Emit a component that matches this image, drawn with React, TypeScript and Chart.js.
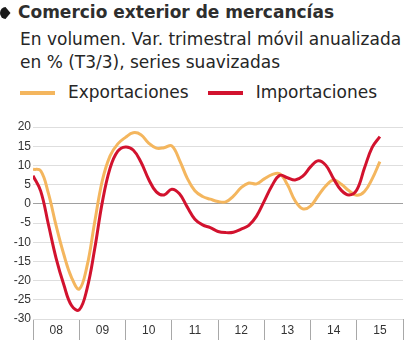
import React, { useEffect, useRef } from 'react';
import { Chart, registerables } from 'chart.js';

Chart.register(...registerables);

// Bi-monthly periods (YYYY-MM)
const periods: string[] = [
  '2008-01', '2008-03', '2008-05', '2008-07', '2008-09', '2008-11',
  '2009-01', '2009-03', '2009-05', '2009-07', '2009-09', '2009-11',
  '2010-01', '2010-03', '2010-05', '2010-07', '2010-09', '2010-11',
  '2011-01', '2011-03', '2011-05', '2011-07', '2011-09', '2011-11',
  '2012-01', '2012-03', '2012-05', '2012-07', '2012-09', '2012-11',
  '2013-01', '2013-03', '2013-05', '2013-07', '2013-09', '2013-11',
  '2014-01', '2014-03', '2014-05', '2014-07', '2014-09', '2014-11',
  '2015-01', '2015-03', '2015-05', '2015-07',
];

const exportaciones: number[] = [
  9.0, 8.6, 2.7, -5.7, -13.2, -19.2,
  -22.2, -16.3, -4.8, 6.1, 12.5, 15.6,
  17.3, 18.5, 18.0, 15.8, 14.5, 14.6,
  15.1, 11.4, 6.7, 3.4, 1.9, 1.2,
  0.6, 0.5, 2.0, 4.2, 5.4, 5.2,
  6.5, 7.6, 7.8, 5.0, 0.8, -1.3,
  -0.6, 2.1, 4.7, 6.2, 5.1, 3.4,
  2.2, 3.2, 6.5, 11.0,
];

const importaciones: number[] = [
  7.3, 3.3, -5.4, -14.2, -21.1, -26.5,
  -27.6, -22.2, -11.8, 0.5, 9.3, 13.7,
  14.8, 14.0, 10.9, 6.4, 3.1, 2.3,
  3.8, 2.6, -0.8, -4.0, -5.5, -6.2,
  -7.2, -7.5, -7.4, -6.6, -5.6, -3.2,
  0.7, 4.7, 7.4, 6.8, 6.2, 7.2,
  9.6, 11.2, 10.0, 6.5, 3.5, 2.3,
  3.6, 9.3, 14.7, 17.5,
];

const yearLabels: string[] = ['08', '09', '10', '11', '12', '13', '14', '15'];
const firstYear = 2008;

const seriesNames: string[] = ['Exportaciones', 'Importaciones'];
const seriesColors: string[] = ['#F4B65E', '#D2122E'];

const titleText = 'Comercio exterior de mercancías';
const subtitleLines: string[] = [
  'En volumen. Var. trimestral móvil anualizada',
  'en % (T3/3), series suavizadas',
];

const yMin = -30;
const yMax = 20;
const yStep = 5;

function toYear(p: string): number {
  const [y, m] = p.split('-').map(Number);
  return y + (m - 1) / 12;
}

const headerFont = "'DejaVu Sans', sans-serif";
const tickFont = "'Liberation Sans', Arial, sans-serif";

export default function App() {
  const canvasRef = useRef<HTMLCanvasElement | null>(null);

  useEffect(() => {
    const canvas = canvasRef.current;
    if (!canvas) return;
    const seriesData = [exportaciones, importaciones];
    const chart = new Chart(canvas, {
      type: 'line',
      data: {
        datasets: seriesNames.map((name, i) => ({
          label: name,
          data: periods.map((p, j) => ({ x: toYear(p), y: seriesData[i][j] })),
          borderColor: seriesColors[i],
          backgroundColor: seriesColors[i],
          borderWidth: 3,
          pointRadius: 0,
          tension: 0.4,
          fill: false,
          order: i === 0 ? 1 : 0,
        })),
      },
      options: {
        animation: false,
        responsive: false,
        maintainAspectRatio: false,
        layout: { padding: { top: 22, right: 11, left: 0, bottom: 0 } },
        plugins: {
          legend: { display: false },
          tooltip: { enabled: false },
        },
        scales: {
          x: {
            type: 'linear',
            min: firstYear,
            max: firstYear + yearLabels.length,
            afterBuildTicks: (scale: any) => {
              const t: any[] = [];
              for (let i = 0; i <= yearLabels.length; i++) {
                t.push({ value: firstYear + i });
                if (i < yearLabels.length) t.push({ value: firstYear + i + 0.5 });
              }
              scale.ticks = t;
            },
            afterFit: (scale: any) => {
              scale.height = 26;
            },
            grid: {
              drawOnChartArea: false,
              tickLength: 21,
              lineWidth: 1,
              color: (ctx: any) =>
                ctx.tick && Number.isInteger(ctx.tick.value) ? '#a8a8a8' : 'rgba(0,0,0,0)',
            },
            border: { display: false },
            ticks: {
              autoSkip: false,
              maxRotation: 0,
              minRotation: 0,
              padding: -17,
              color: '#333',
              font: { family: tickFont, size: 12 },
              callback: (value: any) => {
                const v = Number(value);
                if (Number.isInteger(v)) return '';
                return yearLabels[Math.floor(v) - firstYear] ?? '';
              },
            },
          },
          y: {
            min: yMin,
            max: yMax,
            afterFit: (scale: any) => {
              scale.width = 33;
            },
            grid: {
              drawTicks: false,
              lineWidth: 1,
              color: (ctx: any) => (ctx.tick && ctx.tick.value === 0 ? '#a0a0a0' : '#dedede'),
            },
            border: { display: false },
            ticks: {
              stepSize: yStep,
              padding: 2,
              color: '#333',
              font: { family: tickFont, size: 12 },
            },
          },
        },
      },
    } as any);
    return () => chart.destroy();
  }, []);

  return (
    <div style={{ position: 'absolute', left: 0, top: 0, width: 414, height: 345, background: '#fff', overflow: 'hidden' }}>
      <svg width={11} height={12} style={{ position: 'absolute', left: 0, top: 7 }} viewBox="0 0 11 12">
        <path d="M5.5,0 L10.5,6 L5.5,12 A5.5,6 0 0 1 5.5,0 Z" fill="#1a1a1a" />
      </svg>
      <div
        style={{
          position: 'absolute', left: 18, top: 2, fontFamily: headerFont, fontWeight: 'bold',
          fontSize: 17, lineHeight: '20px', color: '#2e2e2e', whiteSpace: 'nowrap',
        }}
      >
        {titleText}
      </div>
      <div
        style={{
          position: 'absolute', left: 20, top: 28, fontFamily: headerFont,
          fontSize: 17, lineHeight: '23px', color: '#262626', whiteSpace: 'nowrap',
        }}
      >
        {subtitleLines.map((l, i) => (
          <div key={i}>{l}</div>
        ))}
      </div>
      <div
        style={{
          position: 'absolute', left: 20, top: 82, display: 'flex', alignItems: 'center',
          fontFamily: headerFont, fontSize: 17, lineHeight: '20px', color: '#262626', whiteSpace: 'nowrap',
        }}
      >
        {seriesNames.map((name, i) => (
          <div key={name} style={{ display: 'flex', alignItems: 'center', marginRight: 19 }}>
            <div style={{ width: 35, height: 4, background: seriesColors[i], marginRight: 13, marginTop: 1 }} />
            <span>{name}</span>
          </div>
        ))}
      </div>
      <canvas
        ref={canvasRef}
        width={414}
        height={240}
        style={{ position: 'absolute', left: 0, top: 105, width: 414, height: 240 }}
      />
    </div>
  );
}
